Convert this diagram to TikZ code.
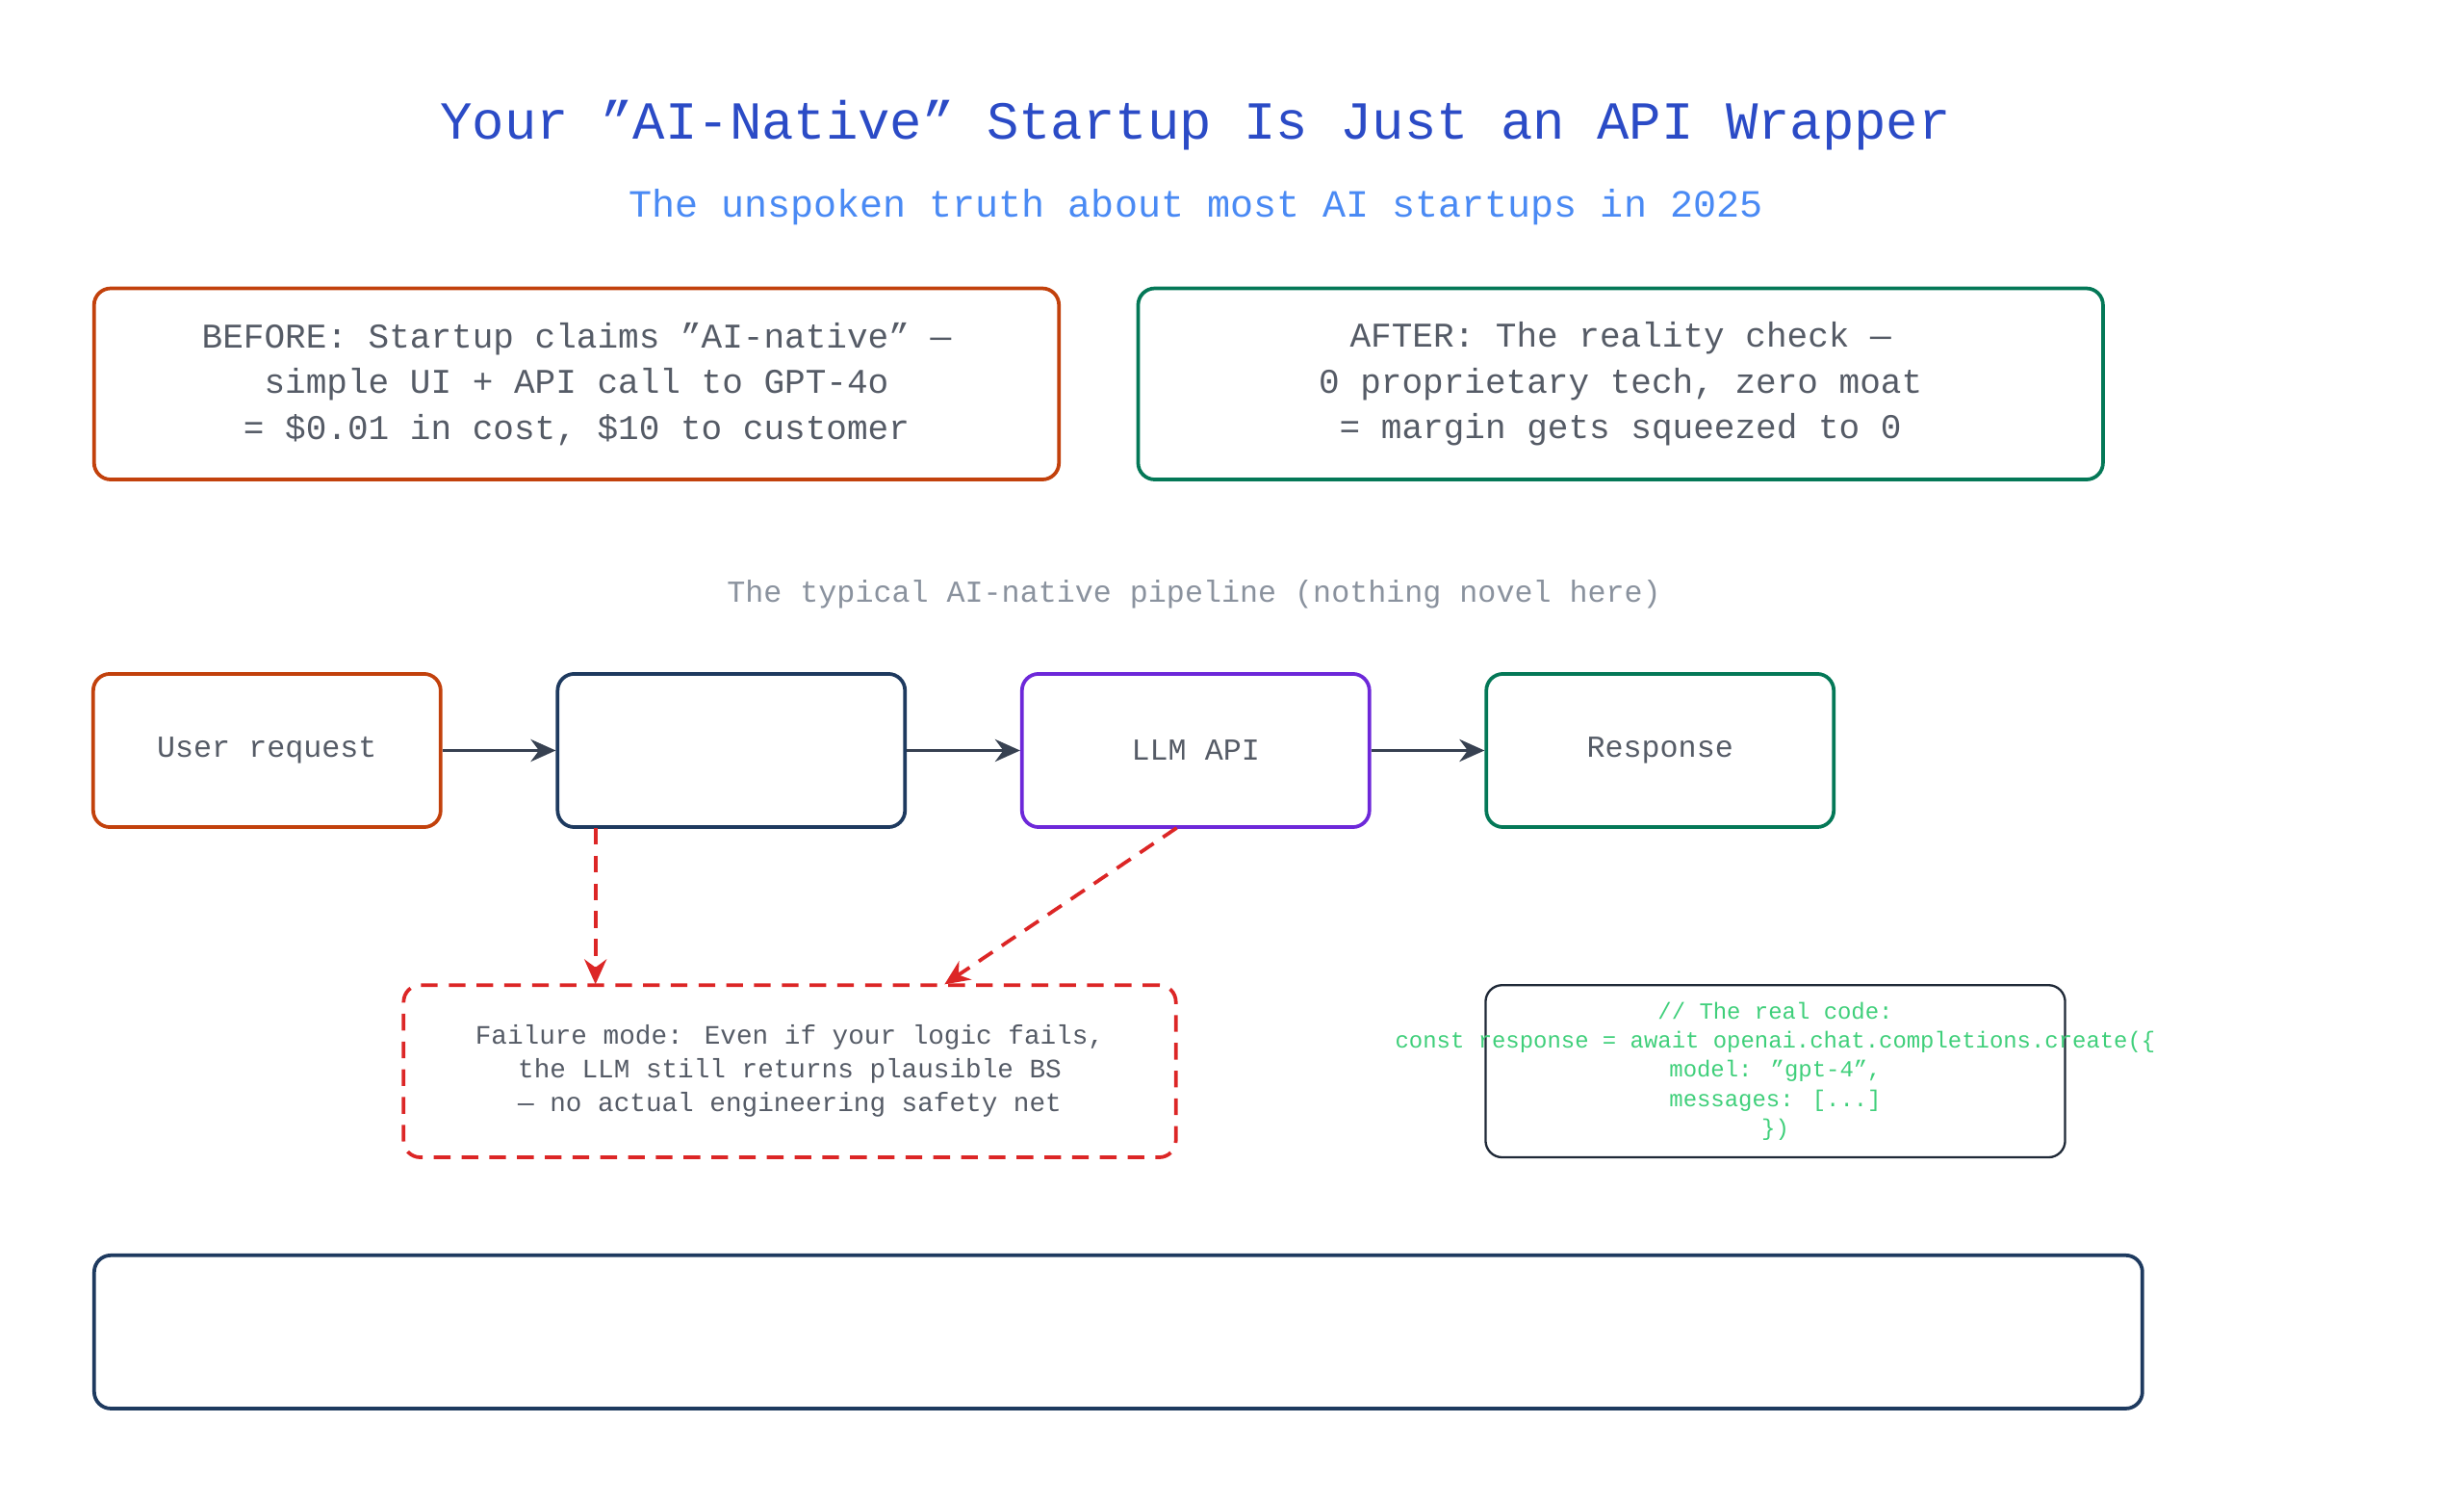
\documentclass[tikz,border=0pt]{standalone}
\usepackage{fontspec}
\setmainfont{Liberation Mono}
\usetikzlibrary{arrows.meta}

\definecolor{titleblue}{HTML}{2B4BC6}
\definecolor{subblue}{HTML}{4A8AF4}
\definecolor{textgrey}{HTML}{555B66}
\definecolor{capgrey}{HTML}{8A929E}
\definecolor{beforeorange}{HTML}{C2410C}
\definecolor{aftergreen}{HTML}{047857}
\definecolor{navy}{HTML}{1E3A5F}
\definecolor{llmpurple}{HTML}{6D28D9}
\definecolor{failred}{HTML}{DC2626}
\definecolor{codegreen}{HTML}{3FCF7A}
\definecolor{codeframe}{HTML}{1F2937}
\definecolor{arrowgrey}{HTML}{374151}

\newcommand{\dq}{\symbol{34}}

\tikzset{
  box/.style={draw, rounded corners=6pt, line width=1.3pt, text=textgrey, align=center},
  stage/.style={box, minimum width=4.4cm, minimum height=1.94cm, font=\fontsize{11}{13}\selectfont},
  flow/.style={-{Stealth[length=9pt,width=8pt]}, line width=1.3pt, draw=arrowgrey},
  fail/.style={-{Stealth[length=9pt,width=8pt]}, line width=1.3pt, draw=failred, dashed, dash pattern=on 6pt off 4pt}
}

\begin{document}
\begin{tikzpicture}[x=0.02cm, y=-0.02cm]

        \useasboundingbox (0,0) rectangle (1560,950);

        % Title and subtitle
        \node[text=titleblue, font=\fontsize{19.3}{22}\selectfont] (title) at (757,79) {Your \dq AI-Native\dq{} Startup Is Just an API Wrapper};
        \node[text=subblue, font=\fontsize{13.9}{16}\selectfont] (subtitle) at (757,131) {The unspoken truth about most AI startups in 2025};

        % Before and after
        \node[box, draw=beforeorange, minimum width=12.22cm, minimum height=2.42cm, font=\fontsize{12.5}{16.5}\selectfont] (before) at (365,243)
            {BEFORE: Startup claims \dq AI-native\dq{} —\\simple UI + API call to GPT-4o\\= \$0.01 in cost, \$10 to customer};
        \node[box, draw=aftergreen, minimum width=12.22cm, minimum height=2.42cm, font=\fontsize{12.5}{16.5}\selectfont] (after) at (1026,243)
            {AFTER: The reality check —\\0 proprietary tech, zero moat\\= margin gets squeezed to 0};

        % Pipeline
        \node[text=capgrey, font=\fontsize{11}{13}\selectfont] (caption) at (756,376) {The typical AI-native pipeline (nothing novel here)};
        \node[stage, draw=beforeorange] (user) at (169,475) {User request};
        \node[stage, draw=navy] (wrapper) at (463,475) {};
        \node[stage, draw=llmpurple] (llm) at (757,475) {LLM API};
        \node[stage, draw=aftergreen] (response) at (1051,475) {Response};

        \draw[flow] (user) -- (wrapper);
        \draw[flow] (wrapper) -- (llm);
        \draw[flow] (llm) -- (response);

        % Failure mode
        \node[box, draw=failred, dashed, dash pattern=on 6pt off 4pt, minimum width=9.78cm, minimum height=2.18cm, font=\fontsize{9.6}{12.2}\selectfont] (failure) at (500,678)
            {Failure mode: Even if your logic fails,\\the LLM still returns plausible BS\\— no actual engineering safety net};
        \coordinate (wrapperout) at (377,524);
        \coordinate (failin) at (377,623);
        \coordinate (llmout) at (745,524);
        \coordinate (failin2) at (598,623);
        \draw[fail] (wrapperout) -- (failin);
        \draw[fail] (llmout) -- (failin2);

        % The real code
        \node[draw=codeframe, rounded corners=6pt, line width=0.8pt, minimum width=7.34cm, minimum height=2.18cm] (code) at (1124,678) {};
        \node[text=codegreen, align=center, font=\fontsize{8.3}{10.5}\selectfont] (codetext) at (code.center)
            {// The real code:\\const response = await openai.chat.completions.create(\{\\model: \dq gpt-4\dq,\\messages: [...]\\\})};

        % Bottom banner
        \node[box, draw=navy, minimum width=25.94cm, minimum height=1.94cm] (banner) at (708,843) {};

\end{tikzpicture}
\end{document}
